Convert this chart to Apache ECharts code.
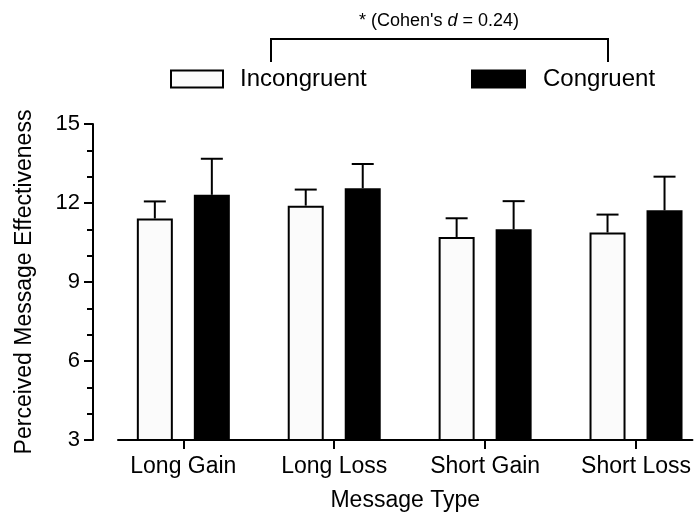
<!DOCTYPE html>
<html>
<head>
<meta charset="utf-8">
<script src="https://cdn.jsdelivr.net/npm/echarts@6/dist/echarts.min.js"></script>
<style>
html,body{margin:0;padding:0;background:#fff;}
#chart{width:694px;height:517px;}
</style>
</head>
<body>
<div id="chart"></div>
<script>
const categories = ['Long Gain', 'Long Loss', 'Short Gain', 'Short Loss'];
const incongruentMean = [11.41, 11.90, 10.71, 10.88];
const incongruentErr = [0.65, 0.61, 0.71, 0.68];
const congruentMean = [12.31, 12.56, 11.00, 11.72];
const congruentErr = [1.37, 0.92, 1.07, 1.28];
const categoryPos = [0, 1, 2, 3];
const yMin = 3, yMax = 15, yStep = 3;
const annotation = "* (Cohen's {i|d} = 0.24)";

const FONT = '"Liberation Sans", Arial, Helvetica, sans-serif';
const BAR_W = 36;
const GAP_PX = 21;
const HALF = (BAR_W + GAP_PX) / 2;

function errSeries(mean, err, dir) {
  return {
    type: 'custom',
    silent: true,
    z: 5,
    data: categoryPos.map((p, i) => [p, mean[i], err[i]]),
    encode: { x: 0, y: 1 },
    renderItem: function (params, api) {
      const x = api.value(0), m = api.value(1), e = api.value(2);
      const p0 = api.coord([x, m]);
      const p1 = api.coord([x, m + e]);
      const cx = p0[0] + dir * HALF;
      const st = { stroke: '#000', lineWidth: 2 };
      return {
        type: 'group',
        children: [
          { type: 'line', shape: { x1: cx, y1: p0[1], x2: cx, y2: p1[1] }, style: st },
          { type: 'line', shape: { x1: cx - 11, y1: p1[1], x2: cx + 11, y2: p1[1] }, style: st }
        ]
      };
    }
  };
}

const chart = echarts.init(document.getElementById('chart'));
chart.setOption({
  backgroundColor: '#fff',
  animation: false,
  textStyle: { fontFamily: FONT, color: '#000' },
  grid: { left: 118, right: 0, top: 124, bottom: 74 },
  legend: [
    {
      data: ['Incongruent'], left: 165, top: 62, icon: 'rect',
      itemWidth: 52, itemHeight: 17,
      textStyle: { fontFamily: FONT, fontSize: 24, color: '#000', padding: [0, 0, 0, 12] }
    },
    {
      data: ['Congruent'], left: 466, top: 62, icon: 'rect',
      itemWidth: 55, itemHeight: 19,
      textStyle: { fontFamily: FONT, fontSize: 24, color: '#000', padding: [0, 0, 0, 12] }
    }
  ],
  xAxis: {
    type: 'value',
    min: -0.433, max: 3.374,
    name: 'Message Type', nameLocation: 'middle', nameGap: 49,
    nameTextStyle: { fontFamily: FONT, fontSize: 23, color: '#000' },
    axisLine: { show: true, onZero: false, lineStyle: { color: '#000', width: 2 } },
    axisTick: { show: true, customValues: categoryPos, length: 9, lineStyle: { color: '#000', width: 2 } },
    axisLabel: {
      show: true, customValues: categoryPos, margin: 15,
      fontFamily: FONT, fontSize: 23, color: '#000',
      formatter: function (v) { return categories[Math.round(v)]; }
    },
    splitLine: { show: false }
  },
  yAxis: {
    type: 'value',
    min: yMin, max: yMax, interval: yStep,
    offset: 25,
    name: 'Perceived Message Effectiveness', nameLocation: 'middle', nameGap: 57,
    nameTextStyle: { fontFamily: FONT, fontSize: 23, color: '#000' },
    axisLine: { show: true, onZero: false, lineStyle: { color: '#000', width: 2 } },
    axisTick: { show: true, length: 9, lineStyle: { color: '#000', width: 2 } },
    minorTick: { show: true, splitNumber: 3, length: 6, lineStyle: { color: '#000', width: 2 } },
    axisLabel: { margin: 13, fontFamily: FONT, fontSize: 22, color: '#000' },
    splitLine: { show: false }
  },
  series: [
    {
      name: 'Incongruent', type: 'bar',
      barWidth: BAR_W, barGap: (GAP_PX / BAR_W * 100) + '%',
      data: categoryPos.map((p, i) => [p, incongruentMean[i]]),
      itemStyle: { color: '#fbfbfb', borderColor: '#000', borderWidth: 2 }
    },
    {
      name: 'Congruent', type: 'bar',
      barWidth: BAR_W, barGap: (GAP_PX / BAR_W * 100) + '%',
      data: categoryPos.map((p, i) => [p, congruentMean[i]]),
      itemStyle: { color: '#000', borderColor: '#000', borderWidth: 0 }
    },
    errSeries(incongruentMean, incongruentErr, -1),
    errSeries(congruentMean, congruentErr, 1)
  ],
  graphic: [
    {
      type: 'polyline', silent: true,
      shape: { points: [[271, 62], [271, 39], [608, 39], [608, 62]] },
      style: { stroke: '#000', lineWidth: 2, fill: null }
    },
    {
      type: 'text', silent: true,
      style: {
        x: 439, y: 21, text: annotation, align: 'center', verticalAlign: 'middle',
        font: '18px ' + FONT, fill: '#000',
        rich: { i: { fontStyle: 'italic', fontSize: 18, fontFamily: FONT, fill: '#000' } }
      }
    }
  ]
});
</script>
</body>
</html>
